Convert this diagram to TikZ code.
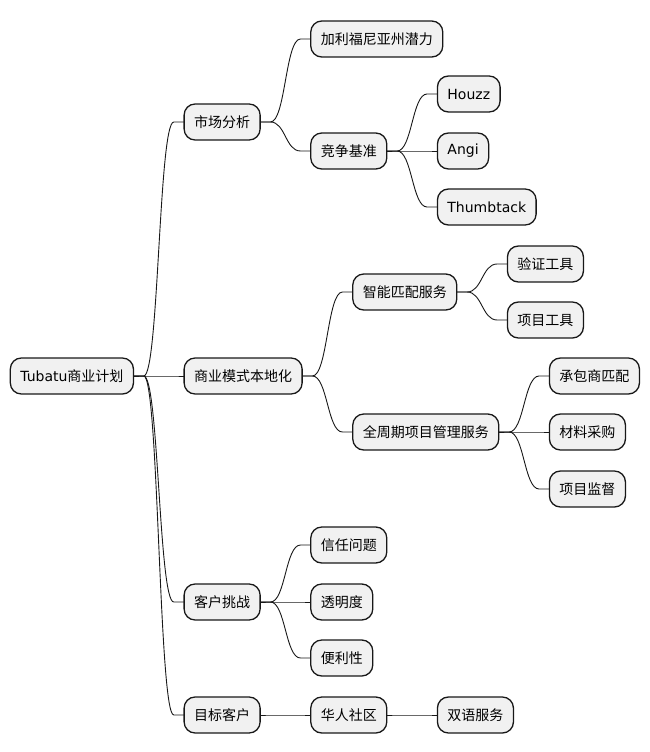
\documentclass[tikz,border=0pt]{standalone}
\usepackage{fontspec}
\setmainfont{DejaVu Sans}
\newfontfamily\cjk{Noto Sans CJK SC}
\usetikzlibrary{positioning}
\definecolor{boxfill}{HTML}{F1F1F1}
\definecolor{boxline}{HTML}{181818}

\begin{document}
\begin{tikzpicture}[x=1pt, y=1pt, node distance=50pt,
  every node/.style={draw=boxline, fill=boxfill, line width=1.3pt, rounded corners=11pt,
    minimum height=36pt, inner xsep=10pt, inner ysep=0pt, outer sep=0.33pt,
    font=\cjk\fontsize{14pt}{17pt}\selectfont},
  en/.style={font=\rmfamily\fontsize{14pt}{17pt}\selectfont},
  link/.style={draw=boxline, line width=0.9pt}]
  \useasboundingbox (0,0) rectangle (650,-752);
  \node[anchor=west] (plan) at (10,-376) {{\rmfamily Tubatu}商业计划};
  % first level
  \node[right=of plan, yshift=254pt] (market) {市场分析};
  \node[right=of plan] (model) {商业模式本地化};
  \node[right=of plan, yshift=-226pt] (challenge) {客户挑战};
  \node[right=of plan, yshift=-339pt] (target) {目标客户};
  % market analysis
  \node[right=of market, yshift=83pt] (california) {加利福尼亚州潜力};
  \node[right=of market, yshift=-29pt] (benchmark) {竞争基准};
  \node[en, right=of benchmark, yshift=57pt] (houzz) {Houzz};
  \node[en, right=of benchmark] (angi) {Angi};
  \node[en, right=of benchmark, yshift=-56pt] (thumbtack) {Thumbtack};
  % business model
  \node[right=of model, yshift=84pt] (matching) {智能匹配服务};
  \node[right=of model, yshift=-56pt] (lifecycle) {全周期项目管理服务};
  \node[right=of matching, yshift=28pt] (verifytool) {验证工具};
  \node[right=of matching, yshift=-28pt] (projecttool) {项目工具};
  \node[right=of lifecycle, yshift=56pt] (contractor) {承包商匹配};
  \node[right=of lifecycle] (material) {材料采购};
  \node[right=of lifecycle, yshift=-57pt] (supervision) {项目监督};
  % customer challenges
  \node[right=of challenge, yshift=57pt] (trust) {信任问题};
  \node[right=of challenge] (transparency) {透明度};
  \node[right=of challenge, yshift=-56pt] (convenience) {便利性};
  % target customers
  \node[right=of target] (community) {华人社区};
  \node[right=of community] (bilingual) {双语服务};
  % branches
  \foreach \a/\b in {plan/market, plan/model, plan/challenge, plan/target,
      market/california, market/benchmark, benchmark/houzz, benchmark/angi,
      benchmark/thumbtack, model/matching, model/lifecycle, matching/verifytool,
      matching/projecttool, lifecycle/contractor, lifecycle/material,
      lifecycle/supervision, challenge/trust, challenge/transparency,
      challenge/convenience, target/community, community/bilingual}
    \draw[link] (\a.east) -- ++(10,0) .. controls +(15,0) and ([xshift=-25pt]\b.west)
      .. ([xshift=-10pt]\b.west) -- (\b.west);
\end{tikzpicture}
\end{document}
